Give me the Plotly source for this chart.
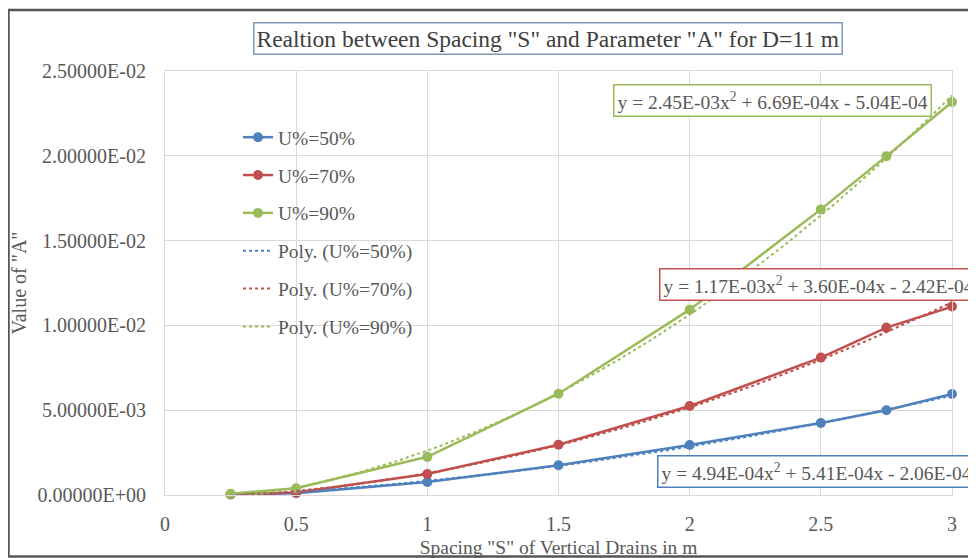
import numpy as np
import plotly.graph_objects as go

# ---- data ----
spacing = [0.25, 0.5, 1, 1.5, 2, 2.5, 2.75, 3]
a_u50 = [0.00003, 0.00010, 0.00077, 0.00175, 0.00295, 0.00425, 0.00500, 0.00596]
a_u70 = [0.00004, 0.00015, 0.00124, 0.00296, 0.00525, 0.00810, 0.00987, 0.01111]
a_u90 = [0.00008, 0.00040, 0.00225, 0.00597, 0.01093, 0.01684, 0.01998, 0.02317]

series_names = ["U%=50%", "U%=70%", "U%=90%"]
poly_names = ["Poly. (U%=50%)", "Poly. (U%=70%)", "Poly. (U%=90%)"]
# quadratic trendline coefficients shown on the chart (a, b, c)
coef_u50 = [4.94e-04, 5.41e-04, -2.06e-04]
coef_u70 = [1.17e-03, 3.60e-04, -2.42e-04]
coef_u90 = [2.45e-03, 6.69e-04, -5.04e-04]
eq_texts = [
    "y = 4.94E-04x<sup>2</sup> + 5.41E-04x - 2.06E-04",
    "y = 1.17E-03x<sup>2</sup> + 3.60E-04x - 2.42E-04",
    "y = 2.45E-03x<sup>2</sup> + 6.69E-04x - 5.04E-04",
]

y_tickvals = [0, 0.005, 0.01, 0.015, 0.02, 0.025]
y_ticktext = ["0.00000E+00", "5.00000E-03", "1.00000E-02",
              "1.50000E-02", "2.00000E-02", "2.50000E-02"]
x_tickvals = [0, 0.5, 1, 1.5, 2, 2.5, 3]
x_ticktext = ["0", "0.5", "1", "1.5", "2", "2.5", "3"]

title_text = 'Realtion between Spacing "S" and Parameter "A" for D=11 m'
x_title = 'Spacing "S" of Vertical Drains in m'
y_title = 'Value of "A"'

colors = ["#4F81BD", "#C0504D", "#9BBB59"]
FONT = "Liberation Serif"
GRAY = "#595959"

fig = go.Figure()
all_series = [a_u50, a_u70, a_u90]
for i, ys in enumerate(all_series):
    fig.add_trace(go.Scatter(
        x=spacing, y=ys, name=series_names[i], mode="lines+markers",
        line=dict(color=colors[i], width=2.5),
        marker=dict(color=colors[i], size=10),
        legendgroup="g%d" % i, cliponaxis=False))

xs = np.linspace(min(spacing), max(spacing), 120)
for i, c in enumerate([coef_u50, coef_u70, coef_u90]):
    fig.add_trace(go.Scatter(
        x=xs, y=np.polyval(c, xs), name=poly_names[i], mode="lines",
        line=dict(color=colors[i], width=2, dash="dot"),
        legendgroup="p%d" % i, cliponaxis=False))

# page offset of the figure (body margin) and plot-area geometry in page pixels
OFF = 8
FW, FH = 976 - OFF, 558 - OFF
L, R, T, B = 165 - OFF, 952 - OFF, 71 - OFF, 495 - OFF
W, H = R - L, B - T
def px(x):
    return (x - OFF - L) / W
def py(y):
    return (B - (y - OFF)) / H

annos = []
# title box
annos.append(dict(xref="paper", yref="paper", x=px(548), y=py(38),
                  text=title_text, showarrow=False,
                  font=dict(family=FONT, size=23.5, color="#404040"),
                  bordercolor="#7F97B8", borderwidth=1.5, borderpad=2,
                  bgcolor="white", xanchor="center", yanchor="middle"))
# equation boxes
eq_pos = [(657, 471), (659, 284), (613, 100)]
for i in range(3):
    annos.append(dict(xref="paper", yref="paper", x=px(eq_pos[i][0]), y=py(eq_pos[i][1]),
                      text=eq_texts[i], showarrow=False,
                      font=dict(family=FONT, size=19.5, color=GRAY),
                      bordercolor=colors[i], borderwidth=1.5, borderpad=3,
                      bgcolor="white", xanchor="left", yanchor="middle"))

fig.update_layout(
    width=FW, height=FH,
    margin=dict(l=L, r=FW - R, t=T, b=FH - B, autoexpand=False),
    paper_bgcolor="white", plot_bgcolor="white",
    font=dict(family=FONT, size=20, color=GRAY),
    showlegend=True,
    legend=dict(x=px(238), y=py(118), xanchor="left", yanchor="top",
                bgcolor="rgba(0,0,0,0)", traceorder="grouped",
                tracegroupgap=9.5, font=dict(family=FONT, size=19.5, color=GRAY)),
    annotations=annos,
    shapes=[dict(type="rect", xref="paper", yref="paper",
                 x0=px(8.5), x1=px(1000), y0=py(556.5), y1=py(10),
                 line=dict(color="#555555", width=2.5), layer="below")],
)
fig.update_xaxes(range=[0, 3], tickvals=x_tickvals, ticktext=x_ticktext,
                 automargin=False,
                 showgrid=True, gridcolor="#D9D9D9", gridwidth=1,
                 showline=True, linecolor="#D9D9D9", mirror=True,
                 zeroline=False, ticks="", ticklabelstandoff=11,
                 tickfont=dict(family=FONT, size=20, color=GRAY),
                 title=dict(text=x_title, standoff=6,
                            font=dict(family=FONT, size=19.5, color=GRAY)))
fig.update_yaxes(range=[0, 0.025], tickvals=y_tickvals, ticktext=y_ticktext,
                 automargin=False,
                 showgrid=True, gridcolor="#D9D9D9", gridwidth=1,
                 showline=True, linecolor="#D9D9D9", mirror=True,
                 zeroline=False, ticks="", ticklabelstandoff=14,
                 tickfont=dict(family=FONT, size=20, color=GRAY),
                 title=dict(text=y_title, standoff=8,
                            font=dict(family=FONT, size=20, color=GRAY)))

fig.write_html("out.html")
